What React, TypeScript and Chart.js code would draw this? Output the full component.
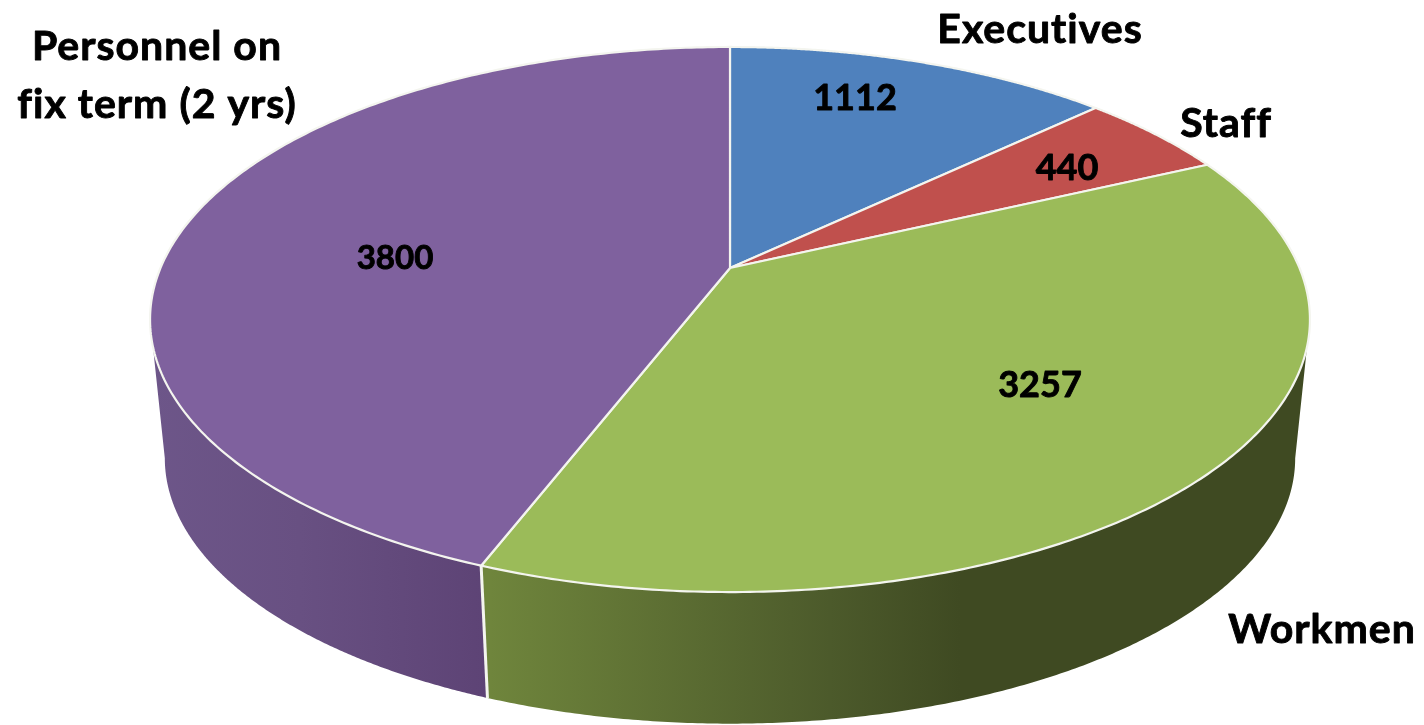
import React, { useEffect, useRef } from "react";
import { Chart, registerables } from "chart.js";

Chart.register(...registerables);

const categories = ["Executives", "Staff", "Workmen", "Personnel on fix term (2 yrs)"];
const values = [1112, 440, 3257, 3800];
const faceColors = ["#4f81bd", "#c0504d", "#9bbb59", "#7f619e"];

// perspective of the disc: top face and base
const CX = 730;
const TOP = { A: 569.5, B: 262.8, apexY: 268 };
const BASE = { A: 555, B: 256, apexY: 408 };
const K = 0.189;

const wallStops: Record<number, [number, string][]> = {
  2: [[490, "#6f853c"], [830, "#4c5a2b"], [960, "#3f4a22"], [1310, "#3f4a22"]],
  3: [[150, "#6d5689"], [300, "#685082"], [490, "#5d4375"]],
};

const valueLabels = [
  { text: "1112", x: 855, y: 98, size: 36 },
  { text: "440", x: 1067, y: 168, size: 36 },
  { text: "3257", x: 1040, y: 385, size: 36 },
  { text: "3800", x: 395, y: 258, size: 33 },
];
const nameLabels = [
  { text: "Executives", x: 1040, y: 30 },
  { text: "Staff", x: 1226, y: 124 },
  { text: "Workmen", x: 1322, y: 630 },
  { text: "Personnel on", x: 157, y: 47 },
  { text: "fix term (2 yrs)", x: 157, y: 105 },
];

function project(a: number, r: number, p: { A: number; B: number; apexY: number }) {
  const u = r * Math.cos(a);
  const v = r * Math.sin(a);
  const d = 1 - K * v;
  return { x: CX + (p.A * u) / d, y: p.apexY + (p.B * v) / d };
}

const pie3d = {
  id: "pie3d",
  beforeDatasetsDraw(chart: any) {
    const ctx: CanvasRenderingContext2D = chart.ctx;
    const arcs = chart.getDatasetMeta(0).data;
    const N = 240;
    const edge = Math.asin(K);

    // side walls, between the two silhouette points of the disc
    arcs.forEach((arc: any, i: number) => {
      const stops = wallStops[i];
      if (!stops) return;
      const a0 = Math.max(arc.startAngle, edge);
      const a1 = Math.min(arc.endAngle, Math.PI - edge);
      if (a1 <= a0) return;
      const g = ctx.createLinearGradient(stops[0][0], 0, stops[stops.length - 1][0], 0);
      const span = stops[stops.length - 1][0] - stops[0][0];
      stops.forEach(([x, c]) => g.addColorStop((x - stops[0][0]) / span, c));
      ctx.beginPath();
      for (let n = 0; n <= N; n++) {
        const p = project(a0 + ((a1 - a0) * n) / N, 1, TOP);
        if (n === 0) ctx.moveTo(p.x, p.y);
        else ctx.lineTo(p.x, p.y);
      }
      for (let n = N; n >= 0; n--) {
        const p = project(a0 + ((a1 - a0) * n) / N, 1, BASE);
        ctx.lineTo(p.x, p.y);
      }
      ctx.closePath();
      ctx.fillStyle = g;
      ctx.fill();
    });

    // wall separators at visible slice edges
    arcs.forEach((arc: any) => {
      const a = arc.endAngle;
      if (Math.sin(a) > 0.05) {
        const t = project(a, 1, TOP);
        const b = project(a, 1, BASE);
        ctx.beginPath();
        ctx.moveTo(t.x, t.y);
        ctx.lineTo(b.x, b.y);
        ctx.strokeStyle = "#f4f5ef";
        ctx.lineWidth = 3;
        ctx.stroke();
      }
    });

    // top faces
    arcs.forEach((arc: any, i: number) => {
      const apex = project(0, 0, TOP);
      ctx.beginPath();
      ctx.moveTo(apex.x, apex.y);
      for (let n = 0; n <= N; n++) {
        const p = project(arc.startAngle + ((arc.endAngle - arc.startAngle) * n) / N, 1, TOP);
        ctx.lineTo(p.x, p.y);
      }
      ctx.closePath();
      ctx.fillStyle = arc.options.backgroundColor ?? faceColors[i];
      ctx.fill();
      ctx.strokeStyle = "#f4f5ef";
      ctx.lineWidth = 2.2;
      ctx.lineJoin = "round";
      ctx.stroke();
    });

    // text
    ctx.fillStyle = "#000";
    ctx.strokeStyle = "#000";
    ctx.lineWidth = 0.9;
    ctx.textAlign = "center";
    ctx.textBaseline = "middle";
    valueLabels.forEach((l) => {
      ctx.font = `bold ${l.size}px Lato`;
      ctx.fillText(l.text, l.x, l.y);
      ctx.strokeText(l.text, l.x, l.y);
    });
    ctx.font = "bold 41px Lato";
    (ctx as any).letterSpacing = "1px";
    nameLabels.forEach((l) => {
      ctx.fillText(l.text, l.x, l.y);
      ctx.strokeText(l.text, l.x, l.y);
    });
    (ctx as any).letterSpacing = "0px";
    return false;
  },
};

export default function App() {
  const ref = useRef<HTMLCanvasElement>(null);
  useEffect(() => {
    document.body.style.margin = "0";
    document.body.style.background = "#fff";
    const chart = new Chart(ref.current!, {
      type: "pie",
      data: {
        labels: categories,
        datasets: [{ data: values, backgroundColor: faceColors }],
      },
      options: {
        responsive: false,
        animation: false,
        plugins: { legend: { display: false }, tooltip: { enabled: false } },
      },
      plugins: [pie3d],
    } as any);
    return () => chart.destroy();
  }, []);
  return <canvas ref={ref} width={1424} height={725} style={{ display: "block" }} />;
}
